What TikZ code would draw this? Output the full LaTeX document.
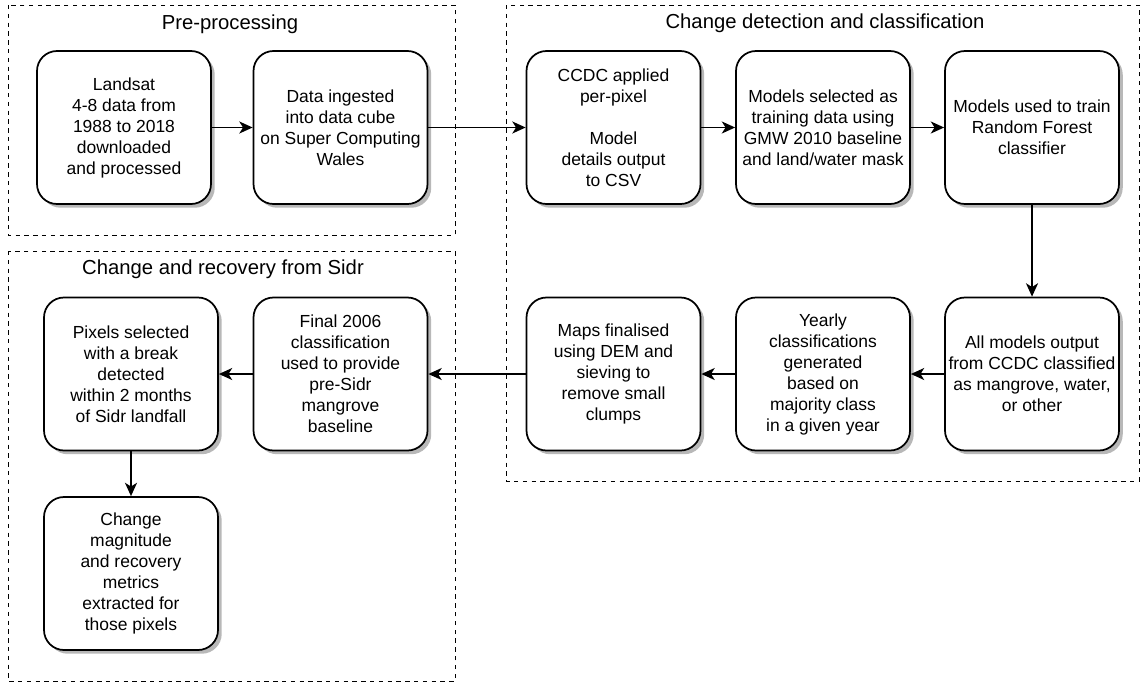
\documentclass[tikz,border=0pt]{standalone}
\usepackage{fontspec}
\setmainfont{Liberation Sans}
\usetikzlibrary{positioning}
\usetikzlibrary{shadows}
\usetikzlibrary {arrows.meta}

\begin{document}
\begin{tikzpicture}[
    x=0.75pt, y=-0.75pt,
    roundbox/.style={rectangle, rounded corners=15pt, draw=black, line width=1.3pt, fill=white, minimum width=130.5pt, minimum height=114.75pt, inner xsep=0pt, align=center, font=\fontsize{13.1}{15.75}\selectfont, drop shadow={shadow xshift=2.8pt, shadow yshift=-2.8pt, fill=black!28, opacity=1}},
    groupbox/.style={draw=black, line width=0.75pt, dash pattern=on 3.3pt off 3.3pt},
    grouptitle/.style={font=\fontsize{15.2}{18}\selectfont},
    flow/.style={line width=1.3pt, -{Stealth[length=10pt, width=9pt, inset=2.8pt]}},
]
    \useasboundingbox (0, 0) rectangle (1141, 682);

    % Pre-processing
    \draw [groupbox] (8, 5) rectangle (455, 235);
    \node (pre_title) at (230, 24) [grouptitle]{Pre-processing};
    \node (landsat) at (124, 127.5) [roundbox]{Landsat\\4-8 data from\\1988 to 2018\\downloaded\\and processed};
    \node (ingest) at (340.5, 127.5) [roundbox]{Data ingested\\into data cube\\on Super Computing\\Wales};

    % Change detection and classification
    \draw [groupbox] (506, 5) rectangle (1139, 481);
    \node (detect_title) at (825, 23) [grouptitle]{Change detection and classification};
    \node (ccdc) at (613.5, 127.5) [roundbox]{CCDC applied\\per-pixel\\[15.75pt]Model\\details output\\to CSV};
    \node (training) at (823, 127.5) [roundbox]{Models selected as\\training data using\\GMW 2010 baseline\\and land/water mask};
    \node (forest) at (1032, 127.5) [roundbox]{Models used to train\\Random Forest\\classifier};
    \node (allmodels) at (1032, 374) [roundbox]{All models output\\from CCDC classified\\as mangrove, water,\\or other};
    \node (yearly) at (823, 374) [roundbox]{Yearly\\classifications\\generated\\based on\\majority class\\in a given year};
    \node (maps) at (613.5, 374) [roundbox]{Maps finalised\\using DEM and\\sieving to\\remove small\\clumps};

    % Change and recovery from Sidr
    \draw [groupbox] (8, 251) rectangle (455, 681);
    \node (sidr_title) at (223, 269) [grouptitle]{Change and recovery from Sidr};
    \node (baseline) at (340.5, 374) [roundbox]{Final 2006\\classification\\used to provide\\pre-Sidr\\mangrove\\baseline};
    \node (pixels) at (131, 374) [roundbox]{Pixels selected\\with a break\\detected\\within 2 months\\of Sidr landfall};
    \node (metrics) at (131, 573.5) [roundbox]{Change\\magnitude\\and recovery\\metrics\\extracted for\\those pixels};

    % Flow
    \draw [flow] (landsat) -- (ingest);
    \draw [flow] (ingest) -- (ccdc);
    \draw [flow] (ccdc) -- (training);
    \draw [flow] (training) -- (forest);
    \draw [flow] (forest) -- (allmodels);
    \draw [flow] (allmodels) -- (yearly);
    \draw [flow] (yearly) -- (maps);
    \draw [flow] (maps) -- (baseline);
    \draw [flow] (baseline) -- (pixels);
    \draw [flow] (pixels) -- (metrics);

\end{tikzpicture}
\end{document}
